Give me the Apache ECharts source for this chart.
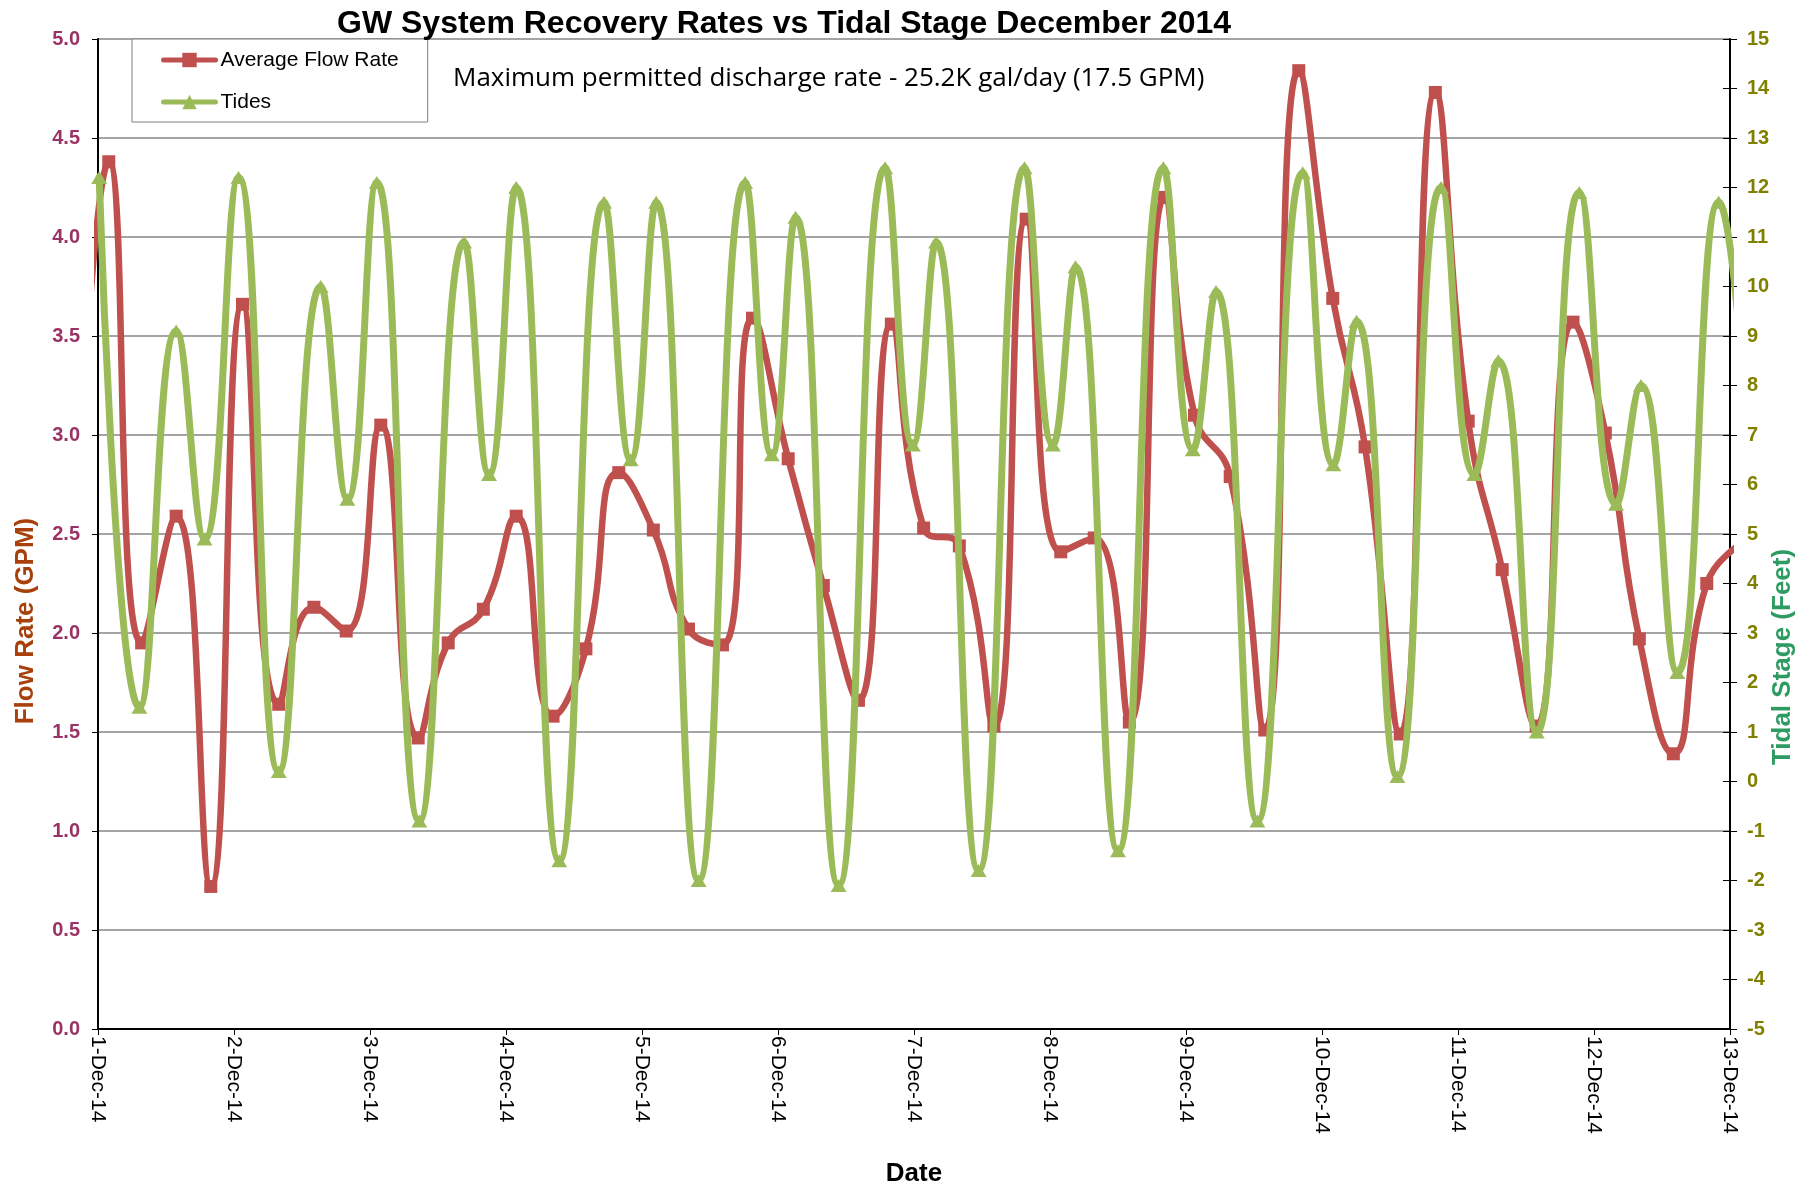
<!DOCTYPE html>
<html>
<head>
<meta charset="utf-8">
<title>GW System Recovery Rates vs Tidal Stage December 2014</title>
<script src="https://cdn.jsdelivr.net/npm/echarts@6/dist/echarts.min.js"></script>
<style>
  html, body { margin: 0; padding: 0; background: #ffffff; }
  #chart { width: 1813px; height: 1188px; }
</style>
</head>
<body>
<div id="chart"></div>
<script>
// Day tick labels along the date axis (one per day, 24 h apart)
const dayLabels = ['1-Dec-14', '2-Dec-14', '3-Dec-14', '4-Dec-14', '5-Dec-14', '6-Dec-14',
  '7-Dec-14', '8-Dec-14', '9-Dec-14', '10-Dec-14', '11-Dec-14', '12-Dec-14', '13-Dec-14'];

// Average flow rate (GPM); times are hours after 1-Dec-14 00:00
const flowHours = [-4.0, 1.9, 7.7, 13.8, 19.9, 25.5, 31.9, 38.1, 43.8, 49.9, 56.5, 61.8, 68.0,
  73.8, 80.3, 86.1, 91.9, 98.0, 104.2, 110.2, 115.5, 121.8, 128.0, 134.2, 140.0,
  145.7, 152.0, 158.1, 163.8, 169.9, 175.8, 182.0, 188.2, 193.5, 199.8, 205.9, 211.9,
  217.9, 223.6, 229.8, 236.0, 241.8, 247.8, 253.8, 260.3, 266.0, 272.0, 278.0, 283.9, 290.0];
const flowRate = [2.50, 4.38, 1.95, 2.59, 0.72, 3.66, 1.64, 2.13, 2.01, 3.05, 1.47, 1.95, 2.12,
  2.59, 1.58, 1.92, 2.81, 2.52, 2.02, 1.94, 3.59, 2.88, 2.24, 1.66, 3.56,
  2.53, 2.44, 1.53, 4.09, 2.41, 2.48, 1.55, 4.20, 3.10, 2.79, 1.51, 4.84,
  3.69, 2.94, 1.49, 4.73, 3.07, 2.32, 1.53, 3.57, 3.01, 1.97, 1.39, 2.25, 2.45];

// Tidal stage (feet); times are hours after 1-Dec-14 00:00
const tideHours = [0.2, 7.3, 13.8, 18.8, 24.8, 31.9, 39.3, 44.0, 49.2, 56.7, 64.6, 69.0,
  73.8, 81.4, 89.3, 94.0, 98.5, 106.0, 114.2, 118.9, 123.1, 130.7, 138.9, 143.8,
  147.9, 155.4, 163.5, 168.5, 172.5, 180.0, 188.0, 193.2, 197.3, 204.6, 212.6, 218.0,
  222.1, 229.3, 237.0, 242.9, 247.1, 253.9, 261.4, 267.9, 272.3, 278.7, 286.0, 292.5];
const tideStage = [12.2, 1.5, 9.1, 4.9, 12.2, 0.2, 10.0, 5.7, 12.1, -0.8, 10.9, 6.2,
  12.0, -1.6, 11.7, 6.5, 11.7, -2.0, 12.1, 6.6, 11.4, -2.1, 12.4, 6.8,
  10.9, -1.8, 12.4, 6.8, 10.4, -1.4, 12.4, 6.7, 9.9, -0.8, 12.3, 6.4,
  9.3, 0.1, 12.0, 6.2, 8.5, 1.0, 11.9, 5.6, 8.0, 2.2, 11.7, 4.5];

// Flow-rate axis ticks and tide axis ticks
const flowTicks = { min: 0, max: 5, step: 0.5 };
const tideTicks = { min: -5, max: 15, step: 1 };

const pair = (xs, ys) => xs.map((x, i) => [x, ys[i]]);

const chart = echarts.init(document.getElementById('chart'), null, { renderer: 'canvas' });

const axisFont = 'Liberation Sans, Arial, sans-serif';

chart.setOption({
  animation: false,
  backgroundColor: '#ffffff',
  title: {
    text: 'GW System Recovery Rates vs Tidal Stage December 2014',
    left: 337,
    top: 8,
    padding: 0,
    textStyle: { fontFamily: axisFont, fontSize: 32, fontWeight: 'bold', color: '#000000' }
  },
  legend: {
    orient: 'vertical',
    left: 132,
    top: 39,
    padding: [10, 29, 9, 29],
    itemGap: 20,
    itemWidth: 52,
    itemHeight: 18,
    backgroundColor: '#ffffff',
    borderColor: '#7f7f7f',
    borderWidth: 1,
    borderRadius: 0,
    lineStyle: { width: 5 },
    textStyle: { fontFamily: axisFont, fontSize: 21, color: '#000000', lineHeight: 22 },
    data: ['Average Flow Rate', 'Tides']
  },
  graphic: [
    {
      type: 'text',
      x: 453,
      y: 79,
      style: {
        text: 'Maximum permitted discharge rate - 25.2K gal/day (17.5 GPM)',
        font: '26px "Open Sans", sans-serif',
        fill: '#000000',
        align: 'left',
        verticalAlign: 'middle'
      }
    },
    {
      type: 'text',
      x: 26,
      y: 621,
      rotation: Math.PI / 2,
      style: {
        text: 'Flow Rate (GPM)',
        font: 'bold 26px "Liberation Sans", Arial, sans-serif',
        fill: '#A8400C',
        align: 'center',
        verticalAlign: 'middle'
      }
    },
    {
      type: 'text',
      x: 1783,
      y: 657,
      rotation: Math.PI / 2,
      style: {
        text: 'Tidal Stage (Feet)',
        font: 'bold 26px "Liberation Sans", Arial, sans-serif',
        fill: '#2E9B62',
        align: 'center',
        verticalAlign: 'middle'
      }
    }
  ],
  grid: { left: 98, right: 83, top: 39, bottom: 159, containLabel: false, outerBoundsMode: 'none' },
  xAxis: {
    type: 'value',
    min: 0,
    max: 24 * (dayLabels.length - 1),
    interval: 24,
    name: 'Date',
    nameLocation: 'middle',
    nameGap: 132,
    nameTextStyle: { fontFamily: axisFont, fontSize: 26, fontWeight: 'bold', color: '#000000' },
    axisLine: { show: true, lineStyle: { color: '#000000', width: 2 } },
    axisTick: { show: true, length: 6, lineStyle: { color: '#000000', width: 1 } },
    axisLabel: {
      rotate: -90,
      margin: 7,
      fontFamily: axisFont,
      fontSize: 21,
      color: '#000000',
      formatter: (v) => dayLabels[Math.round(v / 24)] || ''
    },
    splitLine: { show: false }
  },
  yAxis: [
    {
      type: 'value',
      position: 'left',
      min: flowTicks.min,
      max: flowTicks.max,
      interval: flowTicks.step,
      axisLine: { show: true, lineStyle: { color: '#000000', width: 2 } },
      axisTick: { show: true, length: 6, lineStyle: { color: '#000000', width: 1 } },
      axisLabel: {
        margin: 18,
        fontFamily: axisFont,
        fontSize: 20,
        fontWeight: 'bold',
        color: '#993366',
        formatter: (v) => v.toFixed(1)
      },
      splitLine: { show: true, lineStyle: { color: '#868686', width: 1.5 } }
    },
    {
      type: 'value',
      position: 'right',
      min: tideTicks.min,
      max: tideTicks.max,
      interval: tideTicks.step,
      axisLine: { show: true, lineStyle: { color: '#000000', width: 2 } },
      axisTick: { show: true, length: 7, lineStyle: { color: '#000000', width: 1 } },
      axisLabel: {
        margin: 17,
        fontFamily: axisFont,
        fontSize: 20,
        fontWeight: 'bold',
        color: '#808000'
      },
      splitLine: { show: false }
    },
    {
      // inner half of the crossing ticks on the tide axis
      type: 'value',
      position: 'right',
      min: tideTicks.min,
      max: tideTicks.max,
      interval: tideTicks.step,
      axisLine: { show: false },
      axisTick: { show: true, inside: true, length: 7, lineStyle: { color: '#000000', width: 1 } },
      axisLabel: { show: false },
      splitLine: { show: false }
    }
  ],
  series: [
    {
      name: 'Average Flow Rate',
      type: 'line',
      yAxisIndex: 0,
      data: pair(flowHours, flowRate),
      smooth: 0.5,
      clip: true,
      symbol: 'rect',
      symbolSize: 13,
      showAllSymbol: true,
      itemStyle: { color: '#C0504D' },
      lineStyle: { color: '#C0504D', width: 6.5, cap: 'round', join: 'round' },
      z: 2
    },
    {
      name: 'Tides',
      type: 'line',
      yAxisIndex: 1,
      data: pair(tideHours, tideStage),
      smooth: 0.5,
      clip: true,
      symbol: 'triangle',
      symbolSize: [16, 13],
      showAllSymbol: true,
      itemStyle: { color: '#9BBB59' },
      lineStyle: { color: '#9BBB59', width: 7, cap: 'round', join: 'round' },
      z: 3
    }
  ]
});
</script>
</body>
</html>
